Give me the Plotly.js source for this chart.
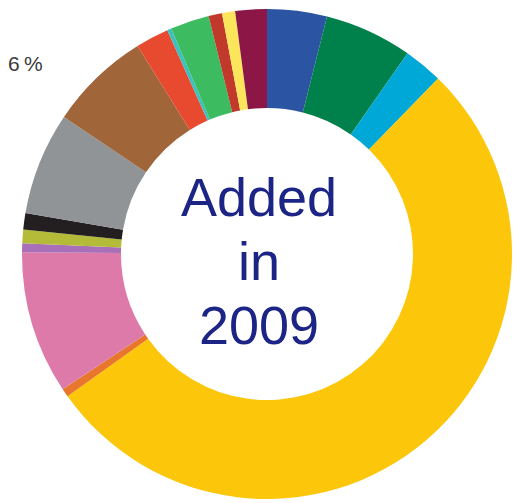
<!DOCTYPE html>
<html>
<head>
<meta charset="utf-8">
<script src="https://cdn.plot.ly/plotly-3.0.1.min.js"></script>
<style>html,body{margin:0;padding:0;background:#fff;}#chart{width:517px;height:503px;}</style>
</head>
<body>
<div id="chart"></div>
<script>
var categories = ["S1","S2","S3","S4","S5","S6","S7","S8","S9","S10","S11","S12","S13","S14","S15","S16","S17"];
var shares = [3.94, 5.78, 2.58, 52.83, 0.56, 9.42, 0.58, 0.89, 1.08, 6.78, 6.69, 2.19, 0.28, 2.56, 0.89, 0.86, 2.08];
var colors = ["#2b55a3","#00804a","#00a8d8","#fcc60a","#e8762d","#de7aa9","#a96fb9","#b3bb38","#231f20","#919496","#a0663a","#e84a2f","#3cc0c0","#3dbb60","#c0392b","#fbe55b","#8c1746"];
var centerLines = ["Added","in","2009"];
var sideLabel = "6\u2009%";

var W = 517, H = 503;
var cx = 267, cy = 254, R = 245;
var trace = {
  type: "pie",
  labels: categories,
  values: shares,
  sort: false,
  direction: "clockwise",
  rotation: 0,
  hole: 0.596,
  textinfo: "none",
  hoverinfo: "label+percent",
  marker: {colors: colors, line: {width: 0}},
  domain: {x: [(cx - R) / W, (cx + R) / W], y: [(H - cy - R) / H, (H - cy + R) / H]},
  showlegend: false
};
var lineY = [197, 261, 325];
var annotations = centerLines.map(function (t, i) {
  return {text: t, xref: "paper", yref: "paper", x: 259 / W, y: 1 - lineY[i] / H,
    xanchor: "center", yanchor: "middle", showarrow: false,
    font: {family: "Liberation Sans, Arial, sans-serif", size: 54, color: "#1c2486"}};
});
annotations.push({text: sideLabel, xref: "paper", yref: "paper", x: 6 / W, y: 1 - 64 / H,
  xanchor: "left", yanchor: "middle", showarrow: false,
  font: {family: "Liberation Sans, Arial, sans-serif", size: 21, color: "#3a3a3a"}});

Plotly.newPlot("chart", [trace], {
  width: W, height: H,
  margin: {l: 0, r: 0, t: 0, b: 0},
  paper_bgcolor: "#ffffff",
  annotations: annotations
}, {displayModeBar: false, staticPlot: true});
</script>
</body>
</html>
